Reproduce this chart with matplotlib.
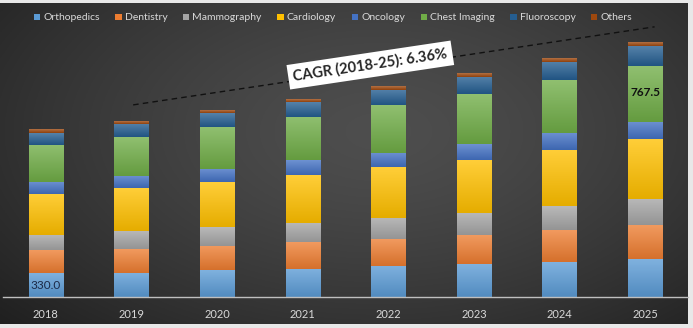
import numpy as np
import matplotlib
matplotlib.use("Agg")
import matplotlib.pyplot as plt
from matplotlib.colors import to_rgb

# data (values per segment)
years = ["2018", "2019", "2020", "2021", "2022", "2023", "2024", "2025"]
segments = ["Orthopedics", "Dentistry", "Mammography", "Cardiology",
            "Oncology", "Chest Imaging", "Fluoroscopy", "Others"]
orthopedics = [330.0, 337, 368, 392, 428, 451, 483, 520]
dentistry = [312, 322, 335, 367, 368, 400, 437, 469]
mammography = [217, 253, 262, 268, 299, 313, 331, 359]
cardiology = [566, 593, 621, 653, 698, 731, 773, 828]
oncology = [166, 166, 185, 207, 199, 211, 244, 239]
chest_imaging = [511, 538, 574, 598, 653, 690, 722, 767.5]
fluoroscopy = [161, 185, 193, 207, 217, 239, 253, 276]
others = [46, 32, 37, 37, 46, 51, 51, 55]
cagr_text = "CAGR (2018-25): 6.36%"

series = [orthopedics, dentistry, mammography, cardiology,
          oncology, chest_imaging, fluoroscopy, others]
colors = ["#5B9BD5", "#ED7D31", "#A5A5A5", "#FFC000",
          "#4472C4", "#70AD47", "#255E91", "#9E480E"]

plt.rcParams['font.family'] = ['Lato', 'DejaVu Sans']

W, H = 693, 328
fig = plt.figure(figsize=(W/100, H/100), dpi=100, facecolor="#e8e8e8")

# dark radial background
bg = fig.add_axes([0, 4/H, 688/W, 321/H])
gx, gy = np.meshgrid(np.linspace(0, 1, 400), np.linspace(0, 1, 200))
r = np.sqrt(((gx-0.55)/0.75)**2 + ((gy-0.6)/0.9)**2)
r = np.clip(r, 0, 1)
v = (0x4e - (0x4e-0x1f)*r**1.4)/255.0
bg.imshow(np.dstack([v, v, v]), aspect="auto", origin="lower", extent=[0, 1, 0, 1])
bg.set_axis_off()

# main axes, 13.8 value per pixel
scale = 13.8
ax = fig.add_axes([3/W, (H-297)/H, 685/W, 297/H])
ax.set_facecolor("none")
x = np.arange(len(years))
bottom = np.zeros(len(years))
for name, vals, c in zip(segments, series, colors):
    bars = ax.bar(x, vals, 0.4, bottom=bottom, color=c, label=name, zorder=2)
    # vertical gradient, lighter at the top of each segment
    base = np.array(to_rgb(c))
    lo = base*0.9
    hi = base + (1-base)*0.22
    t = np.linspace(0, 1, 32)[:, None]
    grad = lo*(1-t) + hi*t
    for b in bars:
        ax.imshow(grad[:, None, :], aspect="auto", origin="lower", zorder=2.1,
                  extent=[b.get_x(), b.get_x()+b.get_width(), b.get_y(), b.get_y()+b.get_height()])
    bottom += np.array(vals)
totals = bottom

ax.set_xlim(-0.5, 7.5)
ax.set_ylim(0, 297*scale)
for s in ["top", "right", "left"]:
    ax.spines[s].set_visible(False)
ax.spines["bottom"].set_color("#bfbfbf")
ax.spines["bottom"].set_linewidth(1.0)
ax.set_yticks([])
ax.set_xticks(x)
ax.set_xticklabels(years, color="#d9d9d9", fontsize=8)
ax.tick_params(axis="x", length=0, pad=9)

# value labels
ax.text(0, orthopedics[0]/2, f"{orthopedics[0]:.1f}", ha="center", va="center",
        fontsize=8.5, color="#1c2a48", zorder=3)
ch_bottom = sum(s[-1] for s in series[:5])
ax.text(7, ch_bottom + chest_imaging[-1]*0.53, f"{chest_imaging[-1]:.1f}",
        ha="center", va="center", fontsize=8.5, fontweight="bold", color="#111111", zorder=3)

# CAGR trend line and box
x0, y0 = 1.02, totals[1] + 225
x1, y1 = 7.11, totals[-1] + 215
ax.plot([x0, x1], [y0, y1], color="#111111", lw=1.0, ls=(0, (4, 3)), zorder=3)
tx = 3.79
ty = y0 + (tx-x0)/(x1-x0)*(y1-y0) + 60
ax.text(tx, ty, cagr_text, ha="center", va="center", rotation=8.5,
        rotation_mode="anchor", fontsize=10.5, fontweight="bold", color="#262626",
        bbox=dict(boxstyle="square,pad=0.35", fc="white", ec="none"), zorder=4)

leg = fig.legend(loc="center", bbox_to_anchor=(333/W, 1-18/H), ncol=8, frameon=False,
                 fontsize=7.5, handlelength=0.6, handleheight=0.6, handletextpad=0.3,
                 columnspacing=1.5, labelcolor="#d9d9d9")

fig.savefig("out.png", dpi=100, facecolor=fig.get_facecolor())
